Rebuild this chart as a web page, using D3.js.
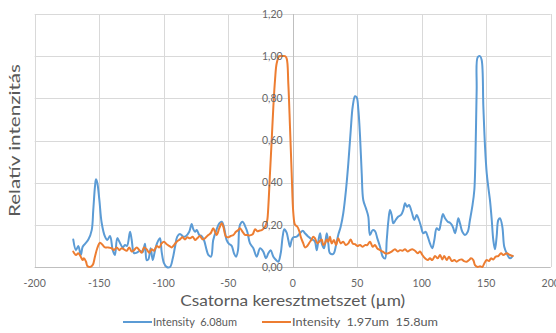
<!DOCTYPE html>
<html>
<head>
<meta charset="utf-8">
<script src="https://cdn.jsdelivr.net/npm/d3@7"></script>
<style>
  html, body { margin: 0; padding: 0; background: #fff; }
  svg { display: block; font-family: Lato, "Open Sans", sans-serif; }
  .legend-text { white-space: pre; }
</style>
</head>
<body>
<svg id="chart" width="556" height="333"></svg>
<script>
// Channel cross-section positions (µm) and relative intensities
const blueX = [-170.1,-168.0,-166.2,-164.3,-162.8,-161.0,-158.4,-155.8,-154.6,-153.3,-152.5,-151.5,-149.9,-148.1,-145.5,-143.7,-141.6,-139.5,-137.8,-136.0,-133.9,-131.8,-130.0,-128.4,-126.1,-124.8,-123.0,-120.9,-118.4,-116.4,-114.5,-113.2,-111.9,-110.1,-108.5,-106.7,-105.0,-102.9,-101.6,-99.8,-97.7,-95.1,-93.0,-91.2,-89.5,-87.4,-84.8,-82.7,-80.2,-78.3,-77.1,-75.7,-74.4,-72.4,-70.7,-68.8,-66.7,-65.4,-63.3,-61.6,-58.9,-56.9,-55.0,-53.3,-51.2,-49.4,-47.3,-45.5,-43.9,-42.4,-40.9,-38.8,-37.0,-35.2,-33.1,-30.5,-27.9,-25.3,-22.8,-20.7,-18.9,-17.1,-15.0,-12.9,-11.2,-9.3,-7.8,-6.5,-4.7,-3.4,-2.1,-0.8,0.5,3.1,5.7,7.8,9.5,12.1,14.7,16.0,17.3,18.6,19.8,21.2,22.5,24.3,26.4,27.6,28.9,31.5,33.6,35.3,37.2,39.2,41.3,43.1,45.0,46.5,48.3,49.6,50.9,52.2,53.5,54.7,56.8,58.6,59.9,62.0,63.8,65.6,67.7,69.8,71.6,72.9,74.1,75.4,76.7,78.0,79.8,81.9,84.0,85.7,87.1,88.6,90.2,92.2,94.3,96.1,97.9,99.5,101.2,103.1,104.7,106.4,108.2,109.8,111.6,113.4,115.0,116.5,118.1,120.2,121.9,123.3,124.5,125.8,127.1,128.4,129.7,131.5,133.6,135.7,137.4,139.2,140.8,141.9,142.6,143.4,145.2,146.5,147.8,149.1,150.4,151.6,152.9,154.3,155.5,156.8,158.1,159.4,160.7,162.5,164.0,165.9,168.4,170.5];
const blueY = [0.13,0.08,0.10,0.057,0.096,0.11,0.13,0.175,0.27,0.38,0.416,0.40,0.32,0.21,0.144,0.128,0.147,0.08,0.057,0.137,0.114,0.093,0.104,0.10,0.167,0.128,0.066,0.068,0.077,0.07,0.11,0.033,0.036,0.089,0.033,0.08,0.115,0.136,0.073,0.018,0.0,0.0,0.04,0.096,0.144,0.157,0.144,0.147,0.167,0.204,0.18,0.167,0.175,0.152,0.147,0.128,0.08,0.057,0.049,0.128,0.18,0.207,0.215,0.19,0.128,0.11,0.1,0.065,0.049,0.08,0.2,0.215,0.195,0.167,0.112,0.089,0.049,0.089,0.073,0.041,0.065,0.08,0.049,0.033,0.025,0.065,0.144,0.179,0.163,0.128,0.096,0.128,0.141,0.144,0.16,0.172,0.16,0.144,0.131,0.128,0.12,0.08,0.12,0.16,0.112,0.089,0.16,0.112,0.065,0.062,0.104,0.152,0.191,0.255,0.365,0.49,0.65,0.76,0.81,0.805,0.745,0.62,0.445,0.318,0.278,0.239,0.152,0.175,0.17,0.136,0.096,0.049,0.04,0.128,0.215,0.27,0.247,0.207,0.223,0.239,0.247,0.27,0.302,0.286,0.294,0.262,0.223,0.247,0.223,0.191,0.16,0.167,0.144,0.112,0.089,0.128,0.184,0.175,0.215,0.251,0.231,0.215,0.21,0.2,0.184,0.16,0.191,0.231,0.207,0.167,0.152,0.167,0.223,0.286,0.365,0.6,0.84,0.995,1.0,0.982,0.76,0.57,0.445,0.38,0.318,0.223,0.128,0.084,0.144,0.223,0.231,0.191,0.096,0.065,0.041,0.052];

const orangeX = [-170.1,-168.0,-166.2,-164.3,-162.8,-161.8,-160.2,-159.2,-157.1,-155.0,-153.3,-151.5,-149.4,-147.3,-145.5,-143.0,-140.3,-138.6,-136.4,-134.4,-132.6,-130.8,-128.7,-126.7,-124.8,-123.0,-120.9,-118.9,-117.1,-115.3,-113.2,-111.2,-109.3,-107.5,-105.4,-103.4,-101.6,-99.8,-97.7,-95.7,-93.8,-92.0,-89.9,-87.4,-85.4,-83.5,-81.7,-79.6,-77.5,-75.7,-74.0,-71.9,-69.8,-68.0,-65.4,-63.6,-61.6,-60.2,-58.9,-56.9,-55.0,-53.8,-51.7,-49.9,-48.1,-46.0,-44.0,-42.2,-40.9,-38.8,-37.0,-35.2,-33.1,-31.0,-29.2,-27.4,-25.9,-24.0,-22.2,-20.7,-19.7,-18.9,-17.6,-16.3,-15.0,-13.7,-12.4,-10.4,-8.5,-6.0,-4.7,-3.4,-2.1,-0.8,0.5,1.8,3.6,5.1,6.4,8.2,9.5,11.3,12.9,14.7,16.0,17.3,19.1,20.6,22.5,23.7,25.0,26.4,27.6,28.9,30.2,32.0,33.6,35.3,37.2,39.2,41.1,43.1,45.0,46.5,48.3,50.1,52.2,54.3,56.0,57.8,59.9,62.0,63.8,65.6,67.7,69.8,71.6,74.1,76.7,79.3,81.4,83.2,85.0,87.1,89.1,90.9,92.7,94.8,96.9,98.7,100.5,102.6,104.7,106.4,108.2,110.3,112.4,114.2,116.0,117.5,119.4,121.2,123.3,125.3,127.1,128.9,131.0,132.8,134.9,136.7,138.2,140.0,141.3,143.4,145.2,147.0,148.5,150.4,152.2,153.7,155.5,157.4,159.4,161.5,163.3,165.9,168.4,170.5];
const orangeY = [0.073,0.057,0.065,0.049,0.033,0.041,0.025,0.005,0.0,0.01,0.049,0.089,0.115,0.104,0.093,0.093,0.089,0.08,0.093,0.08,0.089,0.084,0.077,0.093,0.073,0.08,0.093,0.08,0.068,0.093,0.084,0.068,0.084,0.077,0.1,0.093,0.112,0.12,0.108,0.1,0.093,0.104,0.12,0.131,0.141,0.131,0.141,0.136,0.144,0.128,0.136,0.147,0.131,0.136,0.152,0.16,0.184,0.167,0.152,0.184,0.207,0.191,0.144,0.141,0.147,0.152,0.167,0.175,0.184,0.167,0.152,0.152,0.15,0.155,0.179,0.17,0.172,0.175,0.184,0.2,0.223,0.286,0.445,0.6,0.76,0.887,0.966,1.0,1.0,1.0,0.99,0.87,0.665,0.445,0.255,0.2,0.191,0.17,0.14,0.112,0.093,0.1,0.115,0.131,0.144,0.136,0.112,0.12,0.131,0.104,0.112,0.131,0.12,0.144,0.112,0.128,0.104,0.136,0.112,0.12,0.104,0.112,0.131,0.112,0.108,0.1,0.104,0.096,0.104,0.104,0.12,0.096,0.104,0.088,0.08,0.073,0.065,0.065,0.073,0.084,0.073,0.08,0.077,0.084,0.073,0.08,0.084,0.077,0.065,0.073,0.057,0.041,0.033,0.041,0.033,0.052,0.041,0.057,0.036,0.052,0.033,0.049,0.028,0.033,0.025,0.033,0.036,0.028,0.025,0.033,0.041,0.033,0.009,0.0,0.003,0.0,0.017,0.033,0.028,0.041,0.036,0.049,0.052,0.065,0.057,0.065,0.057,0.052];

const xTicks = [-200, -150, -100, -50, 0, 50, 100, 150, 200];
const yTicks = [0, 0.2, 0.4, 0.6, 0.8, 1.0, 1.2];
const seriesNames = ["Intensity  6.08um", "Intensity  1.97um  15.8um"];
const seriesColors = ["#5b9bd5", "#ed7d31"];
const xTitle = "Csatorna keresztmetszet (µm)";
const yTitle = "Relatív intenzitás";

const svg = d3.select("#chart");
const plot = { left: 34.7, right: 550.7, top: 14, bottom: 267 };

const x = d3.scaleLinear().domain([-200, 200]).range([plot.left, plot.right]);
const y = d3.scaleLinear().domain([0, 1.2]).range([plot.bottom, plot.top]);
const fmt = v => d3.format(".2f")(v).replace(".", ",");

// Gridlines
const grid = svg.append("g").attr("stroke", "#d9d9d9").attr("stroke-width", 1);
grid.selectAll("line.h").data(yTicks.filter(t => t > 0)).join("line")
  .attr("x1", plot.left).attr("x2", plot.right)
  .attr("y1", d => Math.round(y(d)) + 0.5).attr("y2", d => Math.round(y(d)) + 0.5);
grid.selectAll("line.v").data(xTicks.filter(t => t !== 0)).join("line")
  .attr("y1", plot.top).attr("y2", plot.bottom)
  .attr("x1", d => Math.round(x(d)) + 0.5).attr("x2", d => Math.round(x(d)) + 0.5);

// Axis lines (the value axis crosses at x = 0)
svg.append("line")
  .attr("x1", plot.left).attr("x2", plot.right)
  .attr("y1", Math.round(y(0)) + 0.5).attr("y2", Math.round(y(0)) + 0.5)
  .attr("stroke", "#bfbfbf").attr("stroke-width", 1);
svg.append("line")
  .attr("x1", Math.round(x(0)) + 0.5).attr("x2", Math.round(x(0)) + 0.5)
  .attr("y1", plot.top).attr("y2", plot.bottom)
  .attr("stroke", "#bfbfbf").attr("stroke-width", 1);

// Series lines
const line = d3.line()
  .x(d => x(d[0])).y(d => y(d[1]))
  .curve(d3.curveCatmullRom.alpha(0.5));
const series = [
  d3.zip(blueX, blueY),
  d3.zip(orangeX, orangeY)
];
svg.append("g").selectAll("path").data(series).join("path")
  .attr("d", line)
  .attr("fill", "none")
  .attr("stroke", (d, i) => seriesColors[i])
  .attr("stroke-width", 2)
  .attr("stroke-linejoin", "round")
  .attr("stroke-linecap", "round");

// Y tick labels, placed beside the crossing axis
svg.append("g").selectAll("text").data(yTicks).join("text")
  .attr("x", x(0) - 10).attr("y", d => y(d))
  .attr("dy", "0.35em")
  .attr("text-anchor", "end")
  .attr("font-size", 10.5)
  .attr("fill", "#666")
  .text(fmt);

// X tick labels
svg.append("g").selectAll("text").data(xTicks).join("text")
  .attr("x", d => x(d)).attr("y", 283)
  .attr("dy", "0.35em")
  .attr("text-anchor", "middle")
  .attr("font-size", 10.5)
  .attr("fill", "#666")
  .text(d => d);

// Axis titles
svg.append("text")
  .attr("x", x(0)).attr("y", 306)
  .attr("text-anchor", "middle")
  .attr("font-size", 16)
  .attr("fill", "#595959")
  .attr("textLength", 225).attr("lengthAdjust", "spacingAndGlyphs")
  .text(xTitle);
svg.append("text")
  .attr("transform", `translate(20,${(plot.top + plot.bottom) / 2}) rotate(-90)`)
  .attr("text-anchor", "middle")
  .attr("font-size", 16)
  .attr("fill", "#595959")
  .attr("textLength", 153).attr("lengthAdjust", "spacingAndGlyphs")
  .text(yTitle);

// Legend
const legendItems = [
  { x0: 123, tx: 153, w: 84 },
  { x0: 262, tx: 292, w: 146 }
];
const lg = svg.append("g").selectAll("g").data(legendItems).join("g");
lg.append("line")
  .attr("x1", d => d.x0).attr("x2", d => d.x0 + 29)
  .attr("y1", 322).attr("y2", 322)
  .attr("stroke", (d, i) => seriesColors[i]).attr("stroke-width", 2);
lg.append("text")
  .attr("class", "legend-text")
  .attr("x", d => d.tx).attr("y", 322).attr("dy", "0.35em")
  .attr("font-size", 12)
  .attr("fill", "#595959")
  .attr("textLength", d => d.w).attr("lengthAdjust", "spacingAndGlyphs")
  .text((d, i) => seriesNames[i]);
</script>
</body>
</html>
